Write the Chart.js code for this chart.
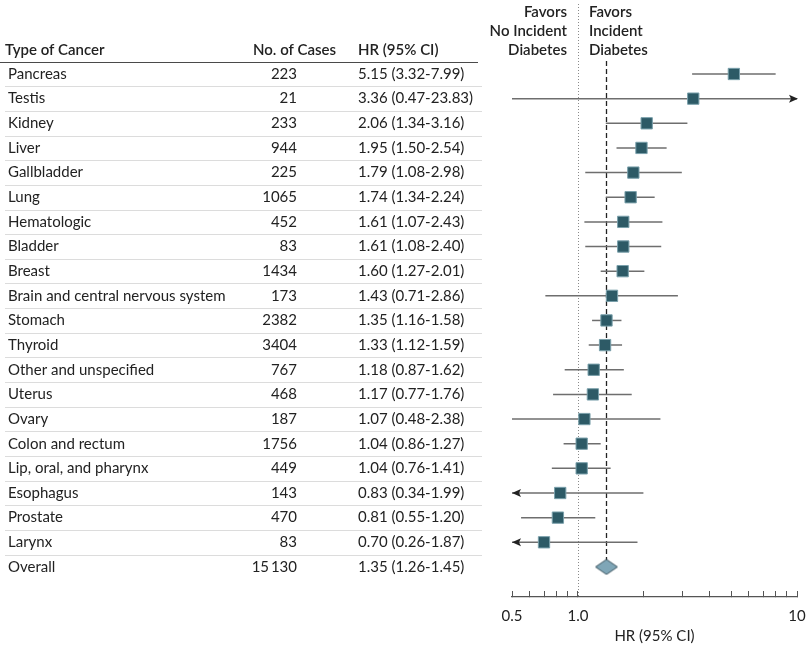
<!DOCTYPE html>
<html>
<head>
<meta charset="utf-8">
<script src="https://cdn.jsdelivr.net/npm/chart.js@4.4.1/dist/chart.umd.min.js"></script>
<style>
  html, body { margin: 0; padding: 0; background: #fff; }
  #wrap { width: 810px; height: 649px; position: relative; }
</style>
</head>
<body>
<div id="wrap"><canvas id="forest"></canvas></div>
<script>
// --- data ---
const cancerTypes = ['Pancreas', 'Testis', 'Kidney', 'Liver', 'Gallbladder', 'Lung', 'Hematologic',
  'Bladder', 'Breast', 'Brain and central nervous system', 'Stomach', 'Thyroid',
  'Other and unspecified', 'Uterus', 'Ovary', 'Colon and rectum', 'Lip, oral, and pharynx',
  'Esophagus', 'Prostate', 'Larynx', 'Overall'];
const caseCounts = ['223', '21', '233', '944', '225', '1065', '452', '83', '1434', '173', '2382',
  '3404', '767', '468', '187', '1756', '449', '143', '470', '83', '15\u2009130'];
const hrValues = [5.15, 3.36, 2.06, 1.95, 1.79, 1.74, 1.61, 1.61, 1.60, 1.43, 1.35, 1.33, 1.18,
  1.17, 1.07, 1.04, 1.04, 0.83, 0.81, 0.70, 1.35];
const ciLower = [3.32, 0.47, 1.34, 1.50, 1.08, 1.34, 1.07, 1.08, 1.27, 0.71, 1.16, 1.12, 0.87,
  0.77, 0.48, 0.86, 0.76, 0.34, 0.55, 0.26, 1.26];
const ciUpper = [7.99, 23.83, 3.16, 2.54, 2.98, 2.24, 2.43, 2.40, 2.01, 2.86, 1.58, 1.59, 1.62,
  1.76, 2.38, 1.27, 1.41, 1.99, 1.20, 1.87, 1.45];
const axisTicks = [0.5, 0.6, 0.7, 0.8, 0.9, 1, 2, 3, 4, 5, 6, 7, 8, 9, 10];
const axisLabels = { 0.5: '0.5', 1: '1.0', 10: '10' };
const nullValue = 1;

const FONT = 'Lato, "Noto Sans", sans-serif';
const TEXT = '#222';
const overallIdx = cancerTypes.length - 1;

function fmt(v) { return v.toFixed(2); }

// diamond marker for the pooled estimate
function makeDiamond(w, h) {
  const c = document.createElement('canvas');
  c.width = w + 2; c.height = h + 2;
  const g = c.getContext('2d');
  g.beginPath();
  g.moveTo(1, h / 2 + 1);
  g.lineTo(w / 2 + 1, 1);
  g.lineTo(w + 1, h / 2 + 1);
  g.lineTo(w / 2 + 1, h + 1);
  g.closePath();
  g.fillStyle = '#7fa6b7';
  g.fill();
  g.strokeStyle = '#3c5560';
  g.lineWidth = 1;
  g.stroke();
  return c;
}

// --- table text, separators, reference lines and CI whiskers ---
const forestPlugin = {
  id: 'forest',
  beforeDatasetsDraw(chart) {
    const { ctx, scales: { x, y } } = chart;
    ctx.save();

    // row separators
    ctx.lineWidth = 1;
    ctx.strokeStyle = '#dcdcdc';
    for (let i = 0; i < overallIdx; i++) {
      const yy = Math.round(y.getPixelForValue(i + 0.5)) + 0.5;
      ctx.beginPath(); ctx.moveTo(5, yy); ctx.lineTo(482, yy); ctx.stroke();
    }
    ctx.strokeStyle = '#4a4a4a';
    const hy = Math.round(y.getPixelForValue(-0.5)) + 0.5;
    ctx.beginPath(); ctx.moveTo(0, hy); ctx.lineTo(478, hy); ctx.stroke();

    // column headers
    ctx.fillStyle = TEXT;
    ctx.textBaseline = 'middle';
    ctx.font = '600 15px ' + FONT;
    const hdrY = y.getPixelForValue(-1) + 1;
    ctx.textAlign = 'left';
    ctx.fillText('Type of Cancer', 5, hdrY);
    ctx.fillText('No. of Cases', 253, hdrY);
    ctx.fillText('HR (95% CI)', 358, hdrY);

    // favors labels
    const x1 = x.getPixelForValue(nullValue);
    ctx.textAlign = 'right';
    ['Favors', 'No Incident', 'Diabetes'].forEach((t, k) => ctx.fillText(t, x1 - 11, 12 + k * 19));
    ctx.textAlign = 'left';
    ['Favors', 'Incident', 'Diabetes'].forEach((t, k) => ctx.fillText(t, x1 + 11, 12 + k * 19));

    // rows
    ctx.font = '15px ' + FONT;
    cancerTypes.forEach((name, i) => {
      const yy = y.getPixelForValue(i);
      ctx.textAlign = 'left';
      ctx.fillText(name, 8, yy);
      ctx.textAlign = 'right';
      ctx.fillText(caseCounts[i], 297, yy);
      ctx.textAlign = 'left';
      ctx.fillText(fmt(hrValues[i]) + ' (' + fmt(ciLower[i]) + '-' + fmt(ciUpper[i]) + ')', 358, yy);
    });

    // dotted line at HR = 1
    ctx.strokeStyle = '#8a8a8a';
    ctx.setLineDash([1, 2]);
    ctx.beginPath(); ctx.moveTo(Math.round(x1) + 0.5, 4); ctx.lineTo(Math.round(x1) + 0.5, x.top); ctx.stroke();

    // dashed line at overall HR
    const xo = Math.round(x.getPixelForValue(hrValues[overallIdx])) + 0.5;
    ctx.strokeStyle = '#222';
    ctx.lineWidth = 1.3;
    ctx.setLineDash([5, 3]);
    ctx.beginPath(); ctx.moveTo(xo, 61); ctx.lineTo(xo, y.getPixelForValue(overallIdx) - 7); ctx.stroke();
    ctx.setLineDash([]);

    // whiskers
    const xmin = x.min, xmax = x.max;
    ctx.strokeStyle = '#6e6e6e';
    ctx.fillStyle = '#222';
    ctx.lineWidth = 1.5;
    for (let i = 0; i < overallIdx; i++) {
      const yy = y.getPixelForValue(i);
      const lo = Math.max(ciLower[i], xmin), hi = Math.min(ciUpper[i], xmax);
      const pl = x.getPixelForValue(lo), pr = x.getPixelForValue(hi);
      ctx.beginPath(); ctx.moveTo(pl, yy); ctx.lineTo(pr, yy); ctx.stroke();
      if (ciLower[i] < xmin && hrValues[i] < 0.9) {
        ctx.beginPath(); ctx.moveTo(pl, yy); ctx.lineTo(pl + 9, yy - 4); ctx.lineTo(pl + 7, yy); ctx.lineTo(pl + 9, yy + 4); ctx.closePath(); ctx.fill();
      }
      if (ciUpper[i] > xmax) {
        ctx.beginPath(); ctx.moveTo(pr + 1, yy); ctx.lineTo(pr - 8, yy - 4); ctx.lineTo(pr - 6, yy); ctx.lineTo(pr - 8, yy + 4); ctx.closePath(); ctx.fill();
      }
    }
    ctx.restore();
  }
};

const squarePoints = hrValues.slice(0, overallIdx).map((v, i) => ({ x: v, y: i }));
const overallPoint = [{ x: hrValues[overallIdx], y: overallIdx }];

new Chart(document.getElementById('forest'), {
  type: 'scatter',
  data: {
    datasets: [
      {
        data: squarePoints,
        pointStyle: 'rect',
        pointRadius: 8,
        backgroundColor: '#2d5a66',
        borderColor: '#7aa0ab',
        borderWidth: 1
      },
      {
        data: overallPoint,
        pointStyle: makeDiamond(22, 15),
        pointRadius: 10
      }
    ]
  },
  options: {
    responsive: true,
    maintainAspectRatio: false,
    animation: false,
    layout: { padding: { left: 512, right: 13, top: 49.35, bottom: 0 } },
    plugins: { legend: { display: false }, tooltip: { enabled: false } },
    scales: {
      x: {
        type: 'logarithmic',
        min: 0.5,
        max: 10,
        afterBuildTicks(scale) { scale.ticks = axisTicks.map(v => ({ value: v })); },
        afterFit(scale) {
          scale.height = 52;
          scale.paddingLeft = 0;
          scale.paddingRight = 0;
        },
        grid: { drawOnChartArea: false, drawTicks: true, tickLength: -6, color: '#555', lineWidth: 1 },
        border: { display: true, color: '#555', width: 1.2 },
        ticks: {
          autoSkip: false,
          maxRotation: 0,
          padding: 16,
          color: TEXT,
          font: { family: FONT, size: 15 },
          callback: v => axisLabels[v] || ''
        },
        title: {
          display: true,
          text: 'HR (95% CI)',
          color: TEXT,
          font: { family: FONT, size: 15 },
          padding: { top: 0, bottom: 4 }
        }
      },
      y: {
        type: 'linear',
        display: false,
        reverse: true,
        min: -1,
        max: 21.22
      }
    }
  },
  plugins: [forestPlugin]
});
</script>
</body>
</html>
